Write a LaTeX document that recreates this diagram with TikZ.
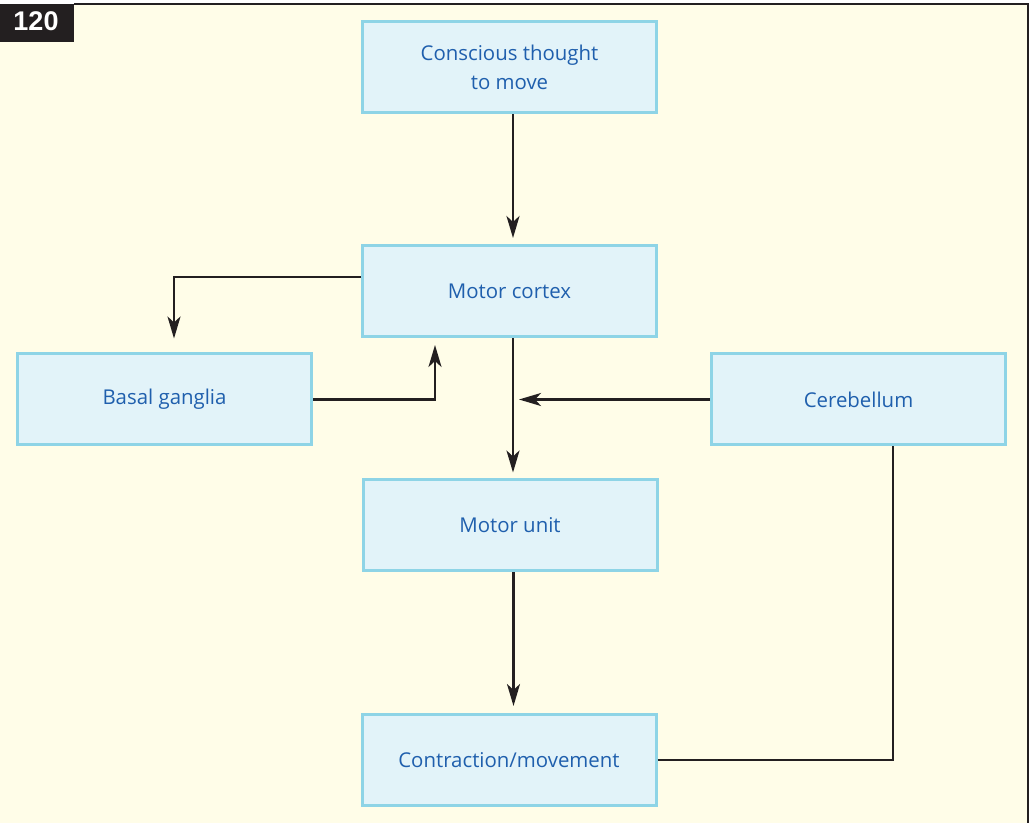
\documentclass[tikz,border=0pt]{standalone}
\usepackage{fontspec}
\setmainfont{Open Sans}
\newfontfamily\tagfont{Liberation Sans}
\usetikzlibrary{arrows.meta}
\definecolor{paper}{HTML}{FFFDE8}
\definecolor{boxfill}{HTML}{E2F3F9}
\definecolor{boxline}{HTML}{8ED4E6}
\definecolor{inkblue}{HTML}{1F5FAD}
\definecolor{ink}{HTML}{231F20}

\begin{document}
\begin{tikzpicture}[x=0.5pt, y=-0.5pt,
    box/.style={draw=boxline, fill=boxfill, line width=1.5pt,
        minimum width=147pt, minimum height=45.5pt, align=center,
        text=inkblue, font=\fontsize{10.2}{14.5}\selectfont},
    link/.style={draw=ink, line width=1.3pt},
    arr/.style={link, -{Stealth[length=11pt, width=6.5pt, inset=3pt]}}]
% page and frame
\useasboundingbox (0,0) rectangle (1029,823);
\fill[white] (0,0) rectangle (1029,823);
\fill[paper] (0,4) rectangle (1029,823);
\draw[ink, line width=1pt] (74,4.5) -- (1027.5,4.5) -- (1027.5,823);
\fill[ink] (0,4) rectangle (74,42);
\node[text=white, font=\tagfont\bfseries\fontsize{13.5}{14}\selectfont] (tag) at (36,21) {120};
% boxes
\node[box] (thought) at (509.5,67.5) {Conscious thought\\to move};
\node[box] (cortex) at (509.5,291) {Motor cortex};
\node[box] (basal) at (164.5,399.5) {Basal ganglia};
\node[box] (cereb) at (858.5,399.5) {Cerebellum};
\node[box] (unit) at (510,525.5) {Motor unit};
\node[box] (move) at (509,760) {Contraction/movement};
\coordinate (j) at (cortex.south |- cereb.west);
% connectors
\draw[arr, shorten >=3pt] ([xshift=1.75pt]thought.south) -- ([xshift=1.75pt]thought.south |- cortex.north);
\draw[arr, shorten >=7pt] ([yshift=7pt]cortex.west) -| ([xshift=4.75pt]basal.north);
\draw[arr, shorten >=3.5pt] (basal.east) -| ([xshift=-37.25pt]cortex.south);
\draw[arr, shorten >=3pt] ([xshift=1.75pt]cortex.south) -- ([xshift=1.75pt]cortex.south |- unit.north);
\draw[arr] (cereb.west) -- ([xshift=4.75pt]j);
\draw[arr, shorten >=3.5pt] ([xshift=1.75pt]unit.south) -- ([xshift=1.75pt]unit.south |- move.north);
\draw[link] (move.east) -| ([xshift=17.25pt]cereb.south);
\end{tikzpicture}
\end{document}
